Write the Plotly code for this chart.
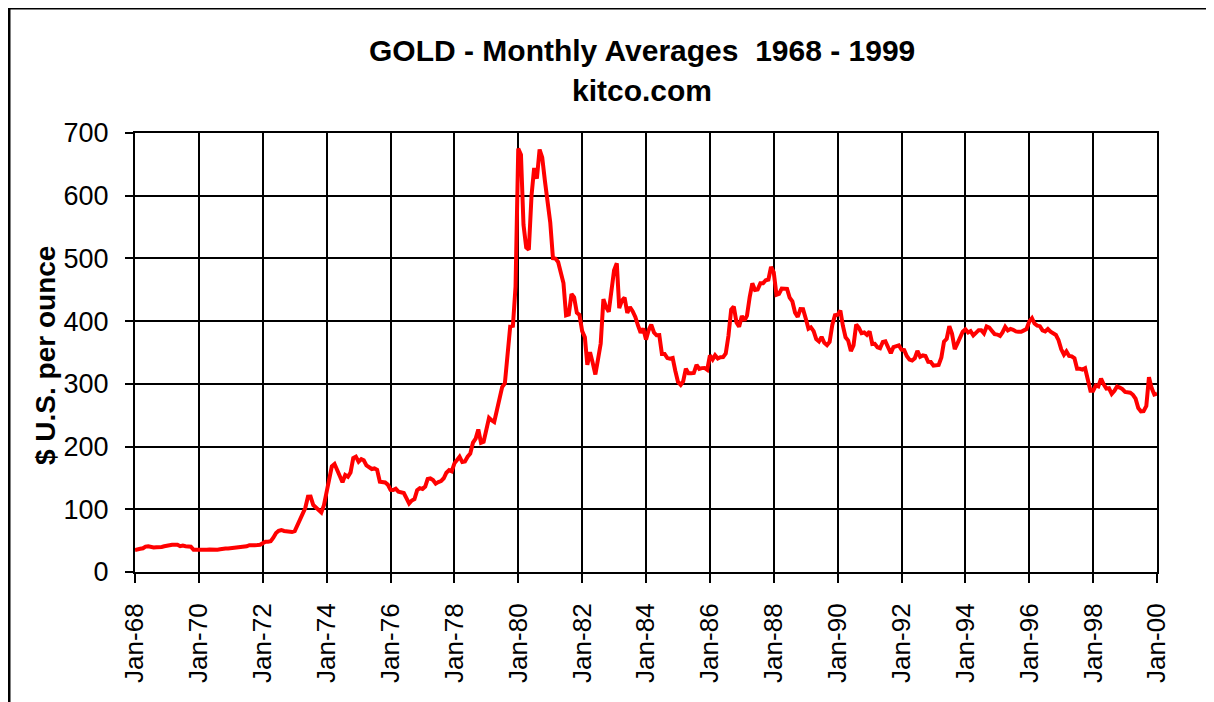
import plotly.graph_objects as go

# Monthly average gold prices (US$/oz), one list per year
y1968 = [35.0, 35.2, 37.0, 37.8, 40.5, 41.1, 39.5, 39.2, 39.6, 39.4, 40.0, 41.1]
y1969 = [42.3, 42.6, 43.3, 43.4, 43.5, 41.2, 42.0, 41.0, 40.9, 40.4, 35.4, 35.2]
y1970 = [34.9, 35.0, 35.1, 35.6, 35.9, 35.4, 35.3, 35.4, 36.2, 37.5, 37.4, 37.4]
y1971 = [37.9, 38.7, 38.9, 39.0, 40.5, 40.1, 41.0, 42.7, 42.0, 42.5, 42.9, 43.5]
y1972 = [46.0, 48.3, 48.3, 49.0, 54.6, 62.1, 65.7, 67.0, 65.5, 64.9, 62.9, 63.9]
y1973 = [65.1, 74.2, 84.4, 90.5, 102.0, 120.1, 120.2, 106.8, 103.0, 100.1, 94.8, 106.7]
y1974 = [129.2, 150.2, 168.4, 172.2, 163.1, 154.1, 143.0, 154.6, 151.8, 158.8, 181.7, 183.9]
y1975 = [175.8, 180.0, 178.2, 169.9, 167.4, 164.2, 165.1, 163.0, 144.1, 142.8, 142.7, 139.3]
y1976 = [131.1, 130.7, 132.7, 128.1, 126.9, 126.0, 117.7, 109.3, 114.0, 116.2, 130.3, 133.6]
y1977 = [132.3, 136.3, 148.2, 149.2, 146.6, 140.8, 143.3, 144.9, 149.5, 158.3, 162.5, 160.5]
y1978 = [173.2, 178.2, 183.7, 175.3, 176.3, 183.9, 188.7, 206.2, 212.8, 227.3, 206.1, 207.8]
y1979 = [227.3, 245.7, 242.1, 239.2, 257.4, 279.4, 294.7, 300.8, 355.1, 391.7, 392.5, 455.1]
y1980 = [675.3, 665.3, 553.6, 517.4, 513.8, 600.7, 644.3, 627.2, 673.6, 661.1, 623.5, 594.9]
y1981 = [557.4, 500.3, 499.8, 494.3, 479.7, 460.8, 409.3, 410.7, 443.1, 437.8, 413.4, 410.1]
y1982 = [384.1, 374.2, 330.2, 350.5, 333.9, 314.9, 339.1, 364.4, 435.2, 422.5, 414.9, 444.3]
y1983 = [481.1, 492.3, 420.9, 432.8, 437.4, 413.0, 422.3, 415.9, 406.6, 393.1, 381.4, 388.3]
y1984 = [370.6, 385.8, 394.4, 381.9, 377.4, 377.6, 347.7, 347.7, 341.1, 340.2, 341.2, 321.0]
y1985 = [303.0, 298.5, 303.8, 324.3, 316.9, 316.8, 317.3, 330.1, 323.9, 325.1, 325.4, 322.4]
y1986 = [345.4, 338.9, 345.7, 340.4, 342.5, 342.7, 348.5, 376.7, 418.4, 423.3, 397.9, 390.9]
y1987 = [408.3, 401.1, 408.9, 438.4, 460.2, 449.8, 450.5, 460.3, 460.4, 465.3, 466.4, 486.3]
y1988 = [477.8, 442.1, 443.6, 451.9, 451.2, 451.5, 437.5, 431.4, 413.5, 406.8, 419.4, 419.1]
y1989 = [404.1, 387.8, 390.1, 384.2, 371.2, 367.6, 374.8, 365.4, 361.8, 366.9, 394.3, 409.3]
y1990 = [410.1, 416.7, 393.1, 374.3, 369.0, 352.3, 361.2, 394.7, 389.3, 380.7, 381.8, 378.2]
y1991 = [383.6, 363.5, 363.8, 358.4, 356.8, 366.7, 367.7, 356.4, 348.8, 358.7, 359.6, 361.5]
y1992 = [354.5, 353.9, 344.3, 338.6, 337.2, 340.8, 352.7, 343.1, 345.4, 344.4, 335.0, 334.8]
y1993 = [329.0, 329.3, 330.1, 342.2, 367.2, 371.9, 392.0, 379.8, 355.3, 364.2, 373.8, 383.3]
y1994 = [386.9, 381.9, 384.1, 377.3, 381.4, 385.6, 385.5, 380.4, 391.6, 389.8, 384.4, 379.3]
y1995 = [378.6, 376.5, 382.1, 391.0, 385.2, 387.6, 386.2, 383.7, 383.1, 383.1, 385.3, 387.4]
y1996 = [399.5, 404.8, 396.2, 392.9, 392.0, 385.3, 383.5, 387.5, 383.1, 381.1, 377.9, 369.7]
y1997 = [355.0, 346.6, 351.8, 344.5, 343.8, 340.8, 324.0, 324.0, 322.8, 324.9, 306.0, 289.0]
y1998 = [289.1, 297.5, 295.9, 308.3, 299.1, 292.3, 292.9, 284.1, 289.0, 295.9, 294.1, 291.6]
y1999 = [287.1, 287.3, 285.9, 282.6, 276.4, 261.3, 256.2, 256.6, 264.7, 310.7, 293.2, 283.1]
y2000 = [284.6]

years = list(range(1968, 2001))
yearly = [y1968, y1969, y1970, y1971, y1972, y1973, y1974, y1975, y1976, y1977,
          y1978, y1979, y1980, y1981, y1982, y1983, y1984, y1985, y1986, y1987,
          y1988, y1989, y1990, y1991, y1992, y1993, y1994, y1995, y1996, y1997,
          y1998, y1999, y2000]

dates, prices = [], []
for yr, vals in zip(years, yearly):
    for m, v in enumerate(vals):
        dates.append(f"{yr}-{m + 1:02d}-01")
        prices.append(v)

tick_years = list(range(1968, 2001, 2))
tick_vals = [f"{y}-01-01" for y in tick_years]
tick_text = [f"Jan-{y % 100:02d}" for y in tick_years]
y_ticks = [0, 100, 200, 300, 400, 500, 600, 700]

FONT = "Liberation Sans, Arial, sans-serif"

fig = go.Figure()
fig.add_trace(go.Scatter(x=dates, y=prices, mode="lines",
                         line=dict(color="#FF0000", width=4),
                         hoverinfo="x+y", showlegend=False))

# The page body has an 8px margin, so the figure starts at (8, 8) on the page.
OFF = 8
# plot area on the page: x 135..1157, y 133..572
L, R, T, B = 135 - OFF, 1157 - OFF, 133 - OFF, 572 - OFF
W, H = 1214 - OFF, 702 - OFF

def px(xp):  # page x -> paper
    return (xp - OFF - L) / (R - L)

def py(yp):  # page y -> paper
    return (B - (yp - OFF)) / (B - T)

fig.update_layout(
    width=W, height=H,
    margin=dict(l=L, r=W - R, t=T, b=H - B),
    paper_bgcolor="white", plot_bgcolor="white",
    font=dict(family=FONT, color="black"),
    showlegend=False,
)

fig.update_xaxes(
    type="date", range=["1968-01-01", "2000-01-01"],
    tickmode="array", tickvals=tick_vals, ticktext=tick_text,
    tickangle=-90, tickfont=dict(size=26, family=FONT, color="black"),
    showgrid=True, gridcolor="black", gridwidth=2,
    showline=True, linecolor="black", linewidth=2, mirror=True,
    ticks="outside", ticklen=9, tickwidth=2, tickcolor="black",
    ticklabelstandoff=10, zeroline=False,
)
fig.update_yaxes(
    range=[0, 700], tickmode="array", tickvals=y_ticks,
    ticktext=[str(v) for v in y_ticks],
    tickfont=dict(size=27, family=FONT, color="black"),
    showgrid=True, gridcolor="black", gridwidth=2,
    showline=True, linecolor="black", linewidth=2, mirror=True,
    ticks="outside", ticklen=8, tickwidth=2, tickcolor="black",
    ticklabelstandoff=11, zeroline=False,
)

# Outer frame (top, left, right), page coordinates
frame = dict(color="black", width=3)
for x0, y0, x1, y1 in [(9, 8, 1211, 8), (9, 8, 9, 720), (1211, 8, 1211, 720)]:
    fig.add_shape(type="line", xref="paper", yref="paper",
                  x0=px(x0), y0=py(y0), x1=px(x1), y1=py(y1), line=frame)

fig.add_annotation(text="GOLD - Monthly Averages\u00a0\u00a01968 - 1999",
                   xref="paper", yref="paper", x=px(642), y=py(50),
                   showarrow=False, xanchor="center", yanchor="middle",
                   font=dict(family=FONT, size=30, color="black", weight="bold"))
fig.add_annotation(text="kitco.com",
                   xref="paper", yref="paper", x=px(642), y=py(90),
                   showarrow=False, xanchor="center", yanchor="middle",
                   font=dict(family=FONT, size=30, color="black", weight="bold"))
fig.add_annotation(text="$ U.S. per ounce",
                   xref="paper", yref="paper", x=px(45), y=py(356),
                   showarrow=False, xanchor="center", yanchor="middle",
                   textangle=-90,
                   font=dict(family=FONT, size=28, color="black", weight="bold"))

fig.write_html("out.html")
